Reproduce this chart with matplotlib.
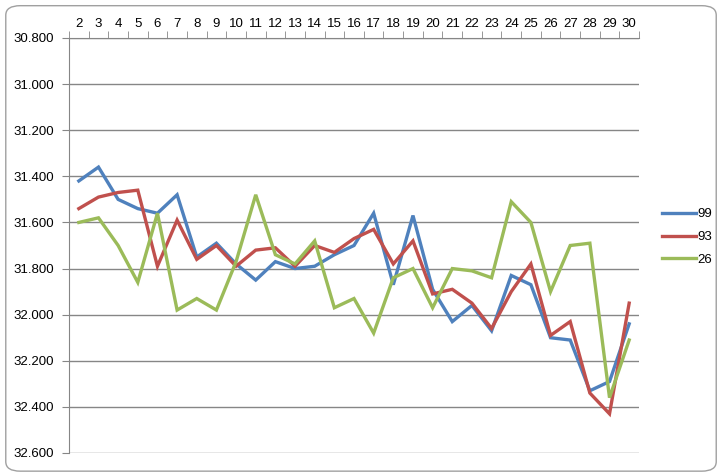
import matplotlib.pyplot as plt
import numpy as np
from matplotlib.patches import FancyBboxPatch

plt.rcParams['font.family'] = ['Liberation Sans', 'DejaVu Sans']

days = list(range(2, 31))
s99 = [31.42, 31.36, 31.50, 31.54, 31.56, 31.48, 31.75, 31.69, 31.78, 31.85,
       31.77, 31.80, 31.79, 31.74, 31.70, 31.56, 31.87, 31.57, 31.89, 32.03,
       31.96, 32.07, 31.83, 31.87, 32.10, 32.11, 32.33, 32.29, 32.04]
s93 = [31.54, 31.49, 31.47, 31.46, 31.79, 31.59, 31.76, 31.70, 31.79, 31.72,
       31.71, 31.79, 31.70, 31.73, 31.67, 31.63, 31.78, 31.68, 31.91, 31.89,
       31.95, 32.06, 31.90, 31.78, 32.09, 32.03, 32.34, 32.43, 31.95]
s26 = [31.60, 31.58, 31.70, 31.86, 31.56, 31.98, 31.93, 31.98, 31.77, 31.48,
       31.74, 31.78, 31.68, 31.97, 31.93, 32.08, 31.84, 31.80, 31.97, 31.80,
       31.81, 31.84, 31.51, 31.60, 31.90, 31.70, 31.69, 32.36, 32.11]
series = [('99', s99, '#4F81BD'), ('93', s93, '#C0504D'), ('26', s26, '#9BBB59')]
yticks = np.arange(30.8, 32.61, 0.2)

fig = plt.figure(figsize=(7.22, 4.74), dpi=100)
border = FancyBboxPatch((0.008, 0.006), 0.984, 0.982,
                        boxstyle='round,pad=0,rounding_size=0.02',
                        transform=fig.transFigure, fc='white',
                        ec='#A0A0A0', lw=1, zorder=-5)
fig.patches.append(border)
ax = fig.add_axes([69 / 722, 21 / 474, 570 / 722, 415 / 474])
ax.patch.set_alpha(0)

for name, vals, col in series:
    ax.plot(days, vals, color=col, lw=2.4, label=name, solid_joinstyle='miter')

ax.set_xlim(1.5, 30.5)
ax.set_ylim(32.6, 30.8)
ax.set_yticks(yticks)
ax.set_yticklabels([f'{v:.3f}' for v in yticks], fontsize=9.5)
ax.xaxis.tick_top()
ax.set_xticks(days)
ax.set_xticklabels([str(d) for d in days], fontsize=9.5)
ax.tick_params(axis='x', which='major', length=0, pad=6)
ax.set_xticks(np.arange(1.5, 30.6, 1), minor=True)
ax.tick_params(axis='x', which='minor', length=5, color='#868686', top=True, bottom=False)
ax.tick_params(axis='y', length=5, color='#868686', pad=6)
ax.grid(axis='y', color='#868686', lw=1)
for s in ['right', 'bottom']:
    ax.spines[s].set_visible(False)
for s in ['left', 'top']:
    ax.spines[s].set_color('#868686')

fig.legend(loc='center left', bbox_to_anchor=(650 / 722, 1 - 237 / 474),
           frameon=False, fontsize=9.5, handlelength=2.6, handletextpad=0.1,
           labelspacing=0.8)

fig.savefig('out.png', dpi=100)
